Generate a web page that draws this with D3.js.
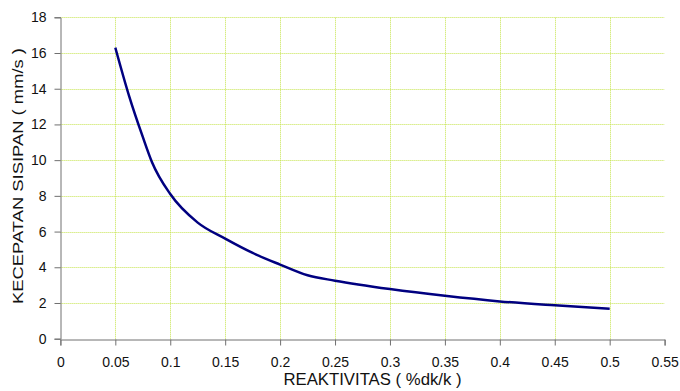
<!DOCTYPE html>
<html>
<head>
<meta charset="utf-8">
<script src="https://cdn.jsdelivr.net/npm/d3@7"></script>
<style>
  body { margin: 0; background: #fff; }
  svg { font-family: "Liberation Sans", Arial, sans-serif; }
</style>
</head>
<body>
<svg id="chart"></svg>
<script>
const reaktivitas = [0.05, 0.0625, 0.075, 0.0833, 0.1, 0.125, 0.15, 0.175, 0.2, 0.225, 0.25, 0.3, 0.35, 0.4, 0.45, 0.5];
const kecepatan = [16.3, 13.6, 11.3, 9.9, 8.1, 6.5, 5.6, 4.8, 4.15, 3.55, 3.25, 2.78, 2.4, 2.09, 1.87, 1.68];
const xTicks = [0, 0.05, 0.1, 0.15, 0.2, 0.25, 0.3, 0.35, 0.4, 0.45, 0.5, 0.55];
const yTicks = [0, 2, 4, 6, 8, 10, 12, 14, 16, 18];
const xTitle = "REAKTIVITAS ( %dk/k )";
const yTitle = "KECEPATAN SISIPAN ( mm/s )";

const width = 680, height = 391;
const margin = { top: 17.3, right: 15.4, bottom: 52.3, left: 60.4 };

const svg = d3.select("#chart")
  .attr("width", width)
  .attr("height", height);

const x = d3.scaleLinear().domain([0, 0.55]).range([margin.left, width - margin.right]);
const y = d3.scaleLinear().domain([0, 18]).range([height - margin.bottom, margin.top]);

// gridlines
const grid = svg.append("g")
  .attr("stroke", "#c4e34a")
  .attr("stroke-width", 1)
  .attr("stroke-dasharray", "1,1");

grid.selectAll("line.h")
  .data(yTicks.filter(d => d > 0))
  .enter()
  .append("line")
  .attr("class", "h")
  .attr("x1", x(0))
  .attr("x2", x(0.55))
  .attr("y1", d => Math.round(y(d)) + 0.5)
  .attr("y2", d => Math.round(y(d)) + 0.5);

grid.selectAll("line.v")
  .data(xTicks.filter(d => d > 0 && d < 0.55))
  .enter()
  .append("line")
  .attr("class", "v")
  .attr("x1", d => Math.round(x(d)) + 0.5)
  .attr("x2", d => Math.round(x(d)) + 0.5)
  .attr("y1", y(0))
  .attr("y2", y(18));

// axes
const xAxis = svg.append("g")
  .attr("transform", `translate(0, ${Math.round(y(0)) + 0.5})`)
  .call(d3.axisBottom(x).tickValues(xTicks).tickFormat(d => String(+d.toFixed(2))).tickSizeOuter(0).tickSize(6).tickPadding(12));

const yAxis = svg.append("g")
  .attr("transform", `translate(${Math.round(x(0)) + 0.5}, 0)`)
  .call(d3.axisLeft(y).tickValues(yTicks).tickSizeOuter(0).tickSize(6).tickPadding(8));

[xAxis, yAxis].forEach(ax => {
  ax.select(".domain").attr("stroke", "#707070");
  ax.selectAll(".tick line").attr("stroke", "#707070");
  ax.selectAll(".tick text")
    .attr("fill", "#111")
    .style("font-size", "14px")
    .style("font-family", "'Liberation Sans', Arial, sans-serif");
});

// line
const line = d3.line()
  .x((d, i) => x(reaktivitas[i]))
  .y(d => y(d))
  .curve(d3.curveMonotoneX);

svg.append("path")
  .datum(kecepatan)
  .attr("fill", "none")
  .attr("stroke", "#000080")
  .attr("stroke-width", 2.5)
  .attr("d", line);

// titles
svg.append("text")
  .attr("x", 372.5)
  .attr("y", 385)
  .attr("text-anchor", "middle")
  .attr("fill", "#111")
  .attr("textLength", 178)
  .attr("lengthAdjust", "spacingAndGlyphs")
  .style("font-size", "16px")
  .text(xTitle);

svg.append("text")
  .attr("transform", "translate(23, 176) rotate(-90)")
  .attr("text-anchor", "middle")
  .attr("fill", "#111")
  .attr("textLength", 256)
  .attr("lengthAdjust", "spacingAndGlyphs")
  .style("font-size", "15px")
  .text(yTitle);
</script>
</body>
</html>
